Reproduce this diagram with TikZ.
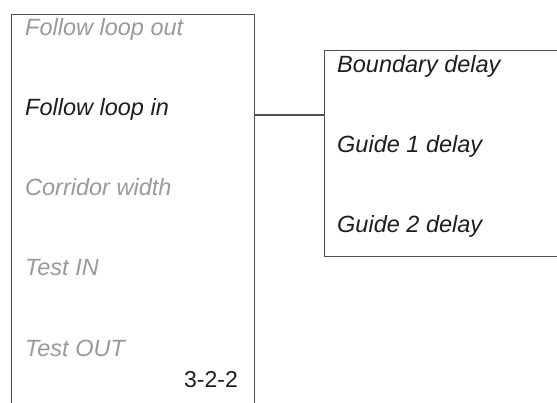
\documentclass[tikz,border=0pt]{standalone}
\usepackage{fontspec}
\setmainfont{Liberation Sans}
\definecolor{dimtxt}{HTML}{9A9A9C}
\definecolor{maintxt}{HTML}{1E1E1E}
\definecolor{frame}{HTML}{505050}
\begin{document}
\begin{tikzpicture}[x=1pt,y=-1pt,
  box/.style={draw=frame,line width=1.4pt,rectangle,inner sep=0pt},
  item/.style={anchor=base west,inner sep=0pt,font=\fontsize{23.5}{28}\selectfont\itshape},
  off/.style={item,text=dimtxt},
  on/.style={item,text=maintxt},
  lbl/.style={anchor=base east,inner sep=0pt,font=\fontsize{23}{28}\selectfont,text=maintxt},
  link/.style={draw=frame,line width=1.2pt}]
\useasboundingbox (0,0) rectangle (557,403);
\clip (0,0) rectangle (557,403);
\fill[white] (0,0) rectangle (557,403);
\node[box,anchor=north west,minimum width=243pt,minimum height=430pt] (L) at (11,14) {};
\node[box,anchor=north west,minimum width=260pt,minimum height=206pt] (R) at (324,50) {};
\node[off] (a) at (25,36) {Follow loop out};
\node[on] (b) at (25,116) {Follow loop in};
\node[off] (c) at (25,196) {Corridor width};
\node[off] (d) at (25,276) {Test IN};
\node[off] (e) at (25,356) {Test OUT};
\node[lbl] (n) at (238,388) {3-2-2};
\node[on] (f) at (337,73) {Boundary delay};
\node[on] (g) at (337,153) {Guide 1 delay};
\node[on] (h) at (337,233) {Guide 2 delay};
\coordinate (lk) at (0,115);
\draw[link] (L.east |- lk) -- (R.west |- lk);
\end{tikzpicture}
\end{document}
